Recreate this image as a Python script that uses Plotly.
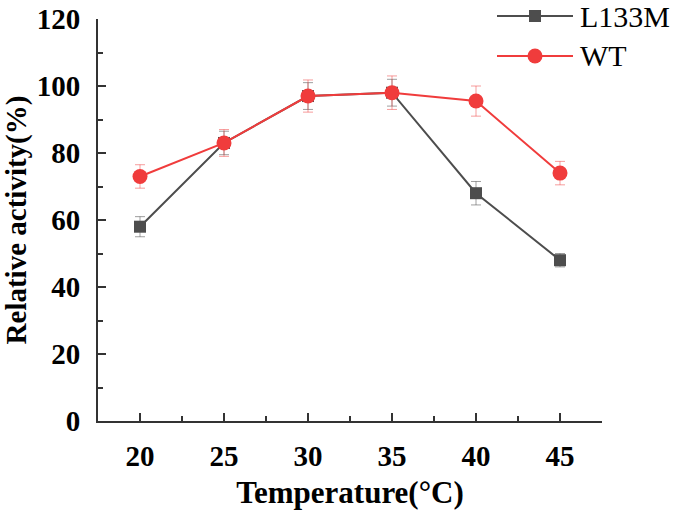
import plotly.graph_objects as go

temps = [20, 25, 30, 35, 40, 45]
l133m = [58, 83, 97, 98, 68, 48]
l133m_err = [3, 3.5, 4, 4, 3.5, 2]
wt = [73, 83, 97, 98, 95.5, 74]
wt_err = [3.5, 4, 4.8, 5, 4.5, 3.5]

gray = "#4d4d4d"
red = "#f03c3c"
font_family = "Liberation Serif"

fig = go.Figure()
fig.add_trace(go.Scatter(
    x=temps, y=l133m, name="L133M", mode="lines+markers",
    line=dict(color=gray, width=2),
    marker=dict(symbol="square", size=12, color=gray),
    error_y=dict(type="data", array=l133m_err, color="rgba(80,80,80,0.55)", thickness=1, width=5),
    showlegend=False,
))
fig.add_trace(go.Scatter(
    x=temps, y=wt, name="WT", mode="lines+markers",
    line=dict(color=red, width=2),
    marker=dict(symbol="circle", size=15, color=red),
    error_y=dict(type="data", array=wt_err, color="rgba(240,60,60,0.5)", thickness=1, width=5),
    showlegend=False,
))

# manual legend (paper coordinates)
L, W, T, H = 98, 504, 19, 402
def px(x):
    return (x - L) / W
def py(y):
    return (T + H - y) / H

legend_rows = [("L133M", gray, "rect", 16), ("WT", red, "circle", 56)]
for label, col, shp, yy in legend_rows:
    fig.add_shape(type="line", xref="paper", yref="paper",
                  x0=px(497), x1=px(573), y0=py(yy), y1=py(yy),
                  line=dict(color=col, width=2))
    s = 12 if shp == "rect" else 15
    fig.add_shape(type=shp, xref="paper", yref="paper",
                  xsizemode="pixel", ysizemode="pixel",
                  xanchor=px(535), yanchor=py(yy),
                  x0=-s / 2, x1=s / 2, y0=-s / 2, y1=s / 2,
                  fillcolor=col, line=dict(color=col, width=0))
    fig.add_annotation(xref="paper", yref="paper", x=px(578), y=py(yy),
                       text=label, showarrow=False, xanchor="left", yanchor="middle",
                       font=dict(family=font_family, size=30, color="black"))

axis_common = dict(
    showline=True, linecolor="#333333", linewidth=2,
    ticks="inside", ticklen=8, tickwidth=2, tickcolor="#333333",
    showgrid=False, zeroline=False, automargin=False,
    tickfont=dict(family=font_family, size=29, color="black", weight="bold"),
    mirror=False,
)

fig.update_xaxes(
    range=[17.5, 47.5], tickvals=temps, ticktext=[str(t) for t in temps],
    minor=dict(tickvals=[17.5, 22.5, 27.5, 32.5, 37.5, 42.5, 47.5], ticks="inside", ticklen=5, tickwidth=2, tickcolor="#333333"),
    title=dict(text="Temperature(°C)", font=dict(family=font_family, size=31, color="black", weight="bold"), standoff=12),
    ticklabelstandoff=8,
    **axis_common,
)
fig.update_yaxes(
    range=[0, 120], tickvals=[0, 20, 40, 60, 80, 100, 120],
    minor=dict(tickvals=[10, 30, 50, 70, 90, 110], ticks="inside", ticklen=5, tickwidth=2, tickcolor="#333333"),
    title=dict(text="Relative activity(%)", font=dict(family=font_family, size=29, color="black", weight="bold"), standoff=8),
    ticklabelstandoff=10,
    **axis_common,
)

fig.update_layout(
    width=685, height=510,
    margin=dict(l=L, r=685 - L - W, t=T, b=510 - T - H),
    plot_bgcolor="white", paper_bgcolor="white",
)

fig.write_html("out.html", config={"displayModeBar": False},
               post_script="document.body.style.margin='0';")
